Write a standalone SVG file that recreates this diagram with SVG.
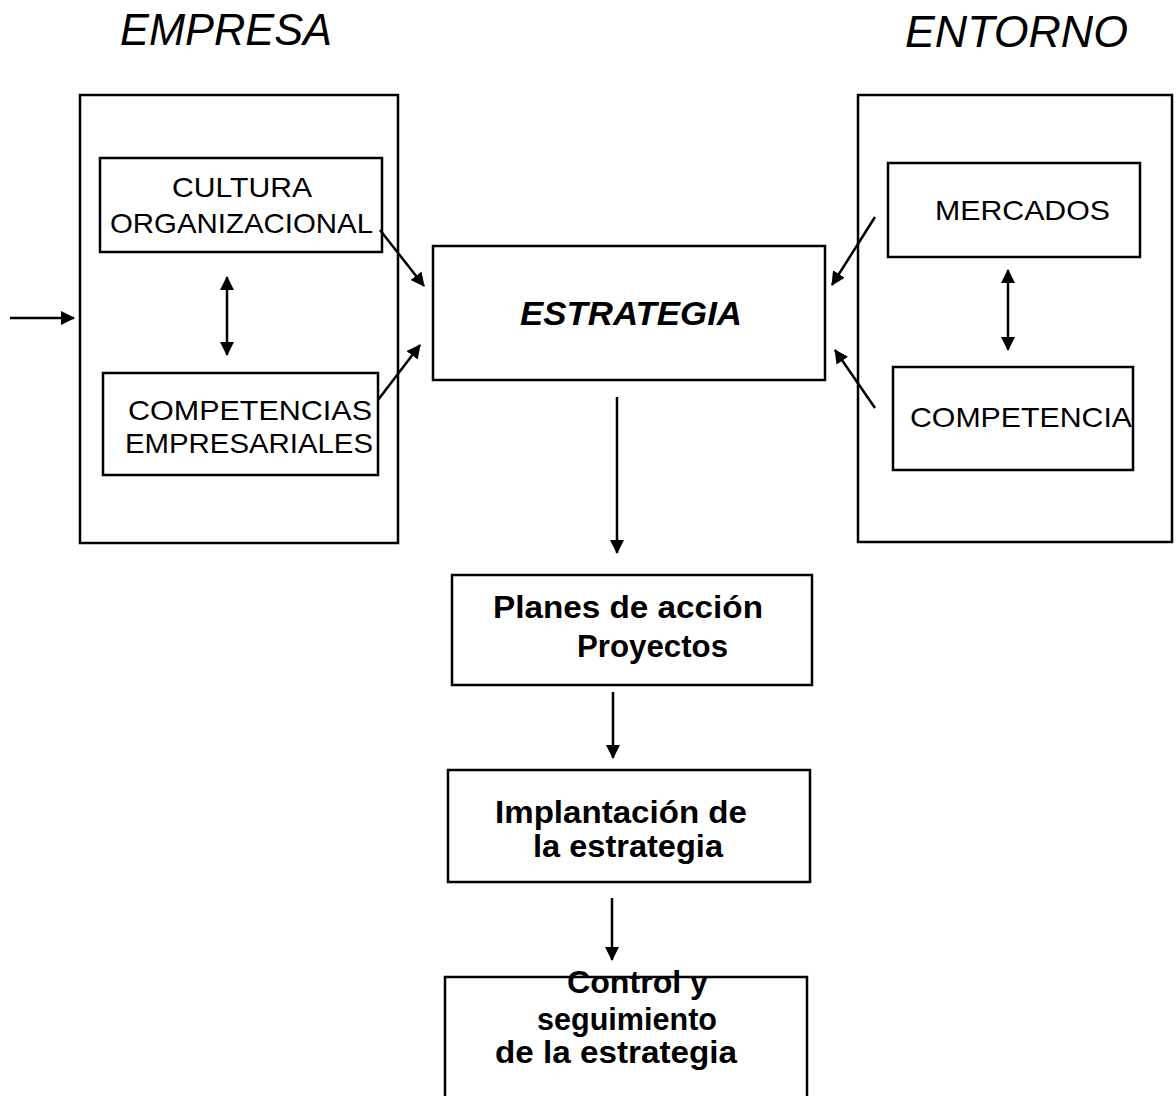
<svg xmlns="http://www.w3.org/2000/svg" width="1176" height="1096" viewBox="0 0 1176 1096">
<style>
  .box { fill: none; stroke: #000; stroke-width: 2.5; }
  .t { font-family: "Liberation Sans", Arial, sans-serif; fill: #000; }
  .title { font-size: 44px; font-style: italic; }
  .cap { font-size: 28px; }
  .low { font-size: 31px; font-weight: bold; }
  .est { font-size: 33px; font-style: italic; font-weight: bold; }
  .conn { fill: none; stroke: #000; stroke-width: 2.5; }
</style>
<defs>
  <marker id="ah" markerUnits="userSpaceOnUse" markerWidth="16" markerHeight="14" refX="13" refY="7" orient="auto-start-reverse">
    <path d="M0,0 L14,7 L0,14 Z" fill="#000"/>
  </marker>
</defs>
<rect width="1176" height="1096" fill="#fff"/>

<text class="t title" x="120" y="45" textLength="212" lengthAdjust="spacingAndGlyphs">EMPRESA</text>
<text class="t title" x="905" y="47" textLength="223" lengthAdjust="spacingAndGlyphs">ENTORNO</text>

<g id="empresa">
  <rect class="box" x="80" y="95" width="318" height="448"/>
</g>
<g id="entorno">
  <rect class="box" x="858" y="95" width="314" height="447"/>
</g>

<g id="cultura">
  <rect class="box" x="100" y="158" width="282" height="94"/>
  <text class="t cap" x="172" y="197" textLength="140" lengthAdjust="spacingAndGlyphs">CULTURA</text>
  <text class="t cap" x="110" y="233" textLength="263" lengthAdjust="spacingAndGlyphs">ORGANIZACIONAL</text>
</g>
<g id="competencias">
  <rect class="box" x="103" y="373" width="275" height="102"/>
  <text class="t cap" x="128" y="420" textLength="244" lengthAdjust="spacingAndGlyphs">COMPETENCIAS</text>
  <text class="t cap" x="125" y="453" textLength="248" lengthAdjust="spacingAndGlyphs">EMPRESARIALES</text>
</g>
<g id="estrategia">
  <rect class="box" x="433" y="246" width="392" height="134"/>
  <text class="t est" x="520" y="325" textLength="222" lengthAdjust="spacingAndGlyphs">ESTRATEGIA</text>
</g>
<g id="mercados">
  <rect class="box" x="888" y="163" width="252" height="94"/>
  <text class="t cap" x="935" y="220" textLength="175" lengthAdjust="spacingAndGlyphs">MERCADOS</text>
</g>
<g id="competencia">
  <rect class="box" x="893" y="367" width="240" height="103"/>
  <text class="t cap" x="910" y="427" textLength="222" lengthAdjust="spacingAndGlyphs">COMPETENCIA</text>
</g>
<g id="planes">
  <rect class="box" x="452" y="575" width="360" height="110"/>
  <text class="t low" x="493" y="618" textLength="270" lengthAdjust="spacingAndGlyphs">Planes de acción</text>
  <text class="t low" x="577" y="657" textLength="151" lengthAdjust="spacingAndGlyphs">Proyectos</text>
</g>
<g id="implantacion">
  <rect class="box" x="448" y="770" width="362" height="112"/>
  <text class="t low" x="495" y="823" textLength="252" lengthAdjust="spacingAndGlyphs">Implantación de</text>
  <text class="t low" x="533" y="857" textLength="190" lengthAdjust="spacingAndGlyphs">la estrategia</text>
</g>
<g id="control">
  <rect class="box" x="445" y="977" width="362" height="140"/>
  <text class="t low" x="567" y="993" textLength="141" lengthAdjust="spacingAndGlyphs">Control y</text>
  <text class="t low" x="537" y="1030" textLength="180" lengthAdjust="spacingAndGlyphs">seguimiento</text>
  <text class="t low" x="495" y="1063" textLength="242" lengthAdjust="spacingAndGlyphs">de la estrategia</text>
</g>

<g id="connectors">
  <line class="conn" x1="10" y1="318" x2="74" y2="318" marker-end="url(#ah)"/>
  <line class="conn" x1="227" y1="277" x2="227" y2="355" marker-start="url(#ah)" marker-end="url(#ah)"/>
  <line class="conn" x1="1008" y1="270" x2="1008" y2="350" marker-start="url(#ah)" marker-end="url(#ah)"/>
  <line class="conn" x1="380" y1="230" x2="424" y2="286" marker-end="url(#ah)"/>
  <line class="conn" x1="378" y1="400" x2="420" y2="345" marker-end="url(#ah)"/>
  <line class="conn" x1="875" y1="217" x2="832" y2="285" marker-end="url(#ah)"/>
  <line class="conn" x1="875" y1="408" x2="835" y2="350" marker-end="url(#ah)"/>
  <line class="conn" x1="617" y1="397" x2="617" y2="553" marker-end="url(#ah)"/>
  <line class="conn" x1="613" y1="692" x2="613" y2="758" marker-end="url(#ah)"/>
  <line class="conn" x1="612" y1="898" x2="612" y2="960" marker-end="url(#ah)"/>
</g>
</svg>
